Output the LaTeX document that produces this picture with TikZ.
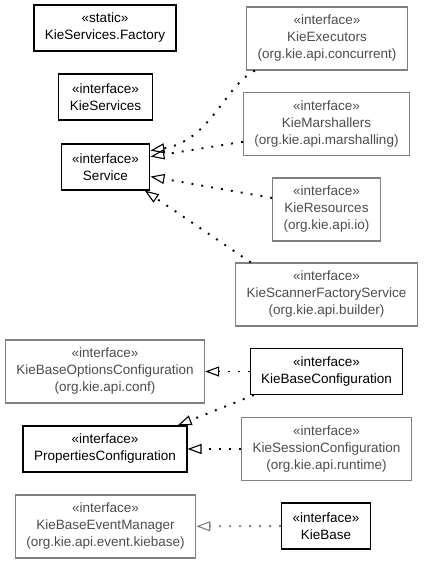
\documentclass[tikz,border=0pt]{standalone}
\usepackage{fontspec}
\setmainfont{Liberation Sans}
\usetikzlibrary{arrows.meta}

\begin{document}
\begin{tikzpicture}[x=1pt, y=-1pt,
  font=\fontsize{13.5}{17}\selectfont,
  cls/.style={draw, line width=1.2pt, align=center, inner xsep=11pt, minimum height=46pt},
  ext/.style={cls, draw=black!50, text=black!70, minimum height=63pt},
  impl/.style={line width=1.9pt, dash pattern=on 1.9pt off 8.1pt,
    -{Triangle[open, length=14pt, width=10pt, line width=1.1pt]}}]
  \useasboundingbox (0,0) rectangle (424,563);
  \node[cls] (Factory) at (105,28) {«static»\\ KieServices.Factory};
  \node[cls] (KieServices) at (105.5,97) {«interface»\\ KieServices};
  \node[cls] (Service) at (105.5,167) {«interface»\\ Service};
  \node[ext] (Executors) at (327,38.5) {«interface»\\ KieExecutors\\ (org.kie.api.concurrent)};
  \node[ext] (Marshallers) at (326.5,124) {«interface»\\ KieMarshallers\\ (org.kie.api.marshalling)};
  \node[ext] (Resources) at (326.5,209.5) {«interface»\\ KieResources\\ (org.kie.api.io)};
  \node[ext] (Scanner) at (326.5,294.5) {«interface»\\ KieScannerFactoryService\\ (org.kie.api.builder)};
  \node[ext] (OptionsConf) at (105,371.5) {«interface»\\ KieBaseOptionsConfiguration\\ (org.kie.api.conf)};
  \node[cls] (BaseConf) at (326.5,371.5) {«interface»\\ KieBaseConfiguration};
  \node[cls] (PropConf) at (105,449) {«interface»\\ PropertiesConfiguration};
  \node[ext] (SessionConf) at (326.5,449) {«interface»\\ KieSessionConfiguration\\ (org.kie.api.runtime)};
  \node[ext] (EventManager) at (105.5,526.5) {«interface»\\ KieBaseEventManager\\ (org.kie.api.event.kiebase)};
  \node[cls] (KieBase) at (326,526) {«interface»\\ KieBase};
  \draw[impl] (Executors.204) .. controls +(-30,15) and +(60,-10) .. (Service.20);
  \draw[impl] (Marshallers.192) -- (Service.13);
  \draw[impl] (Resources.168) -- (Service.-12);
  \draw[impl] (Scanner.157) -- (Service.-31);
  \draw[impl] (BaseConf) -- (OptionsConf);
  \draw[impl] (BaseConf.198) -- (PropConf.18);
  \draw[impl] (SessionConf) -- (PropConf);
  \draw[impl, draw=black!50] (KieBase) -- (EventManager);
\end{tikzpicture}
\end{document}
